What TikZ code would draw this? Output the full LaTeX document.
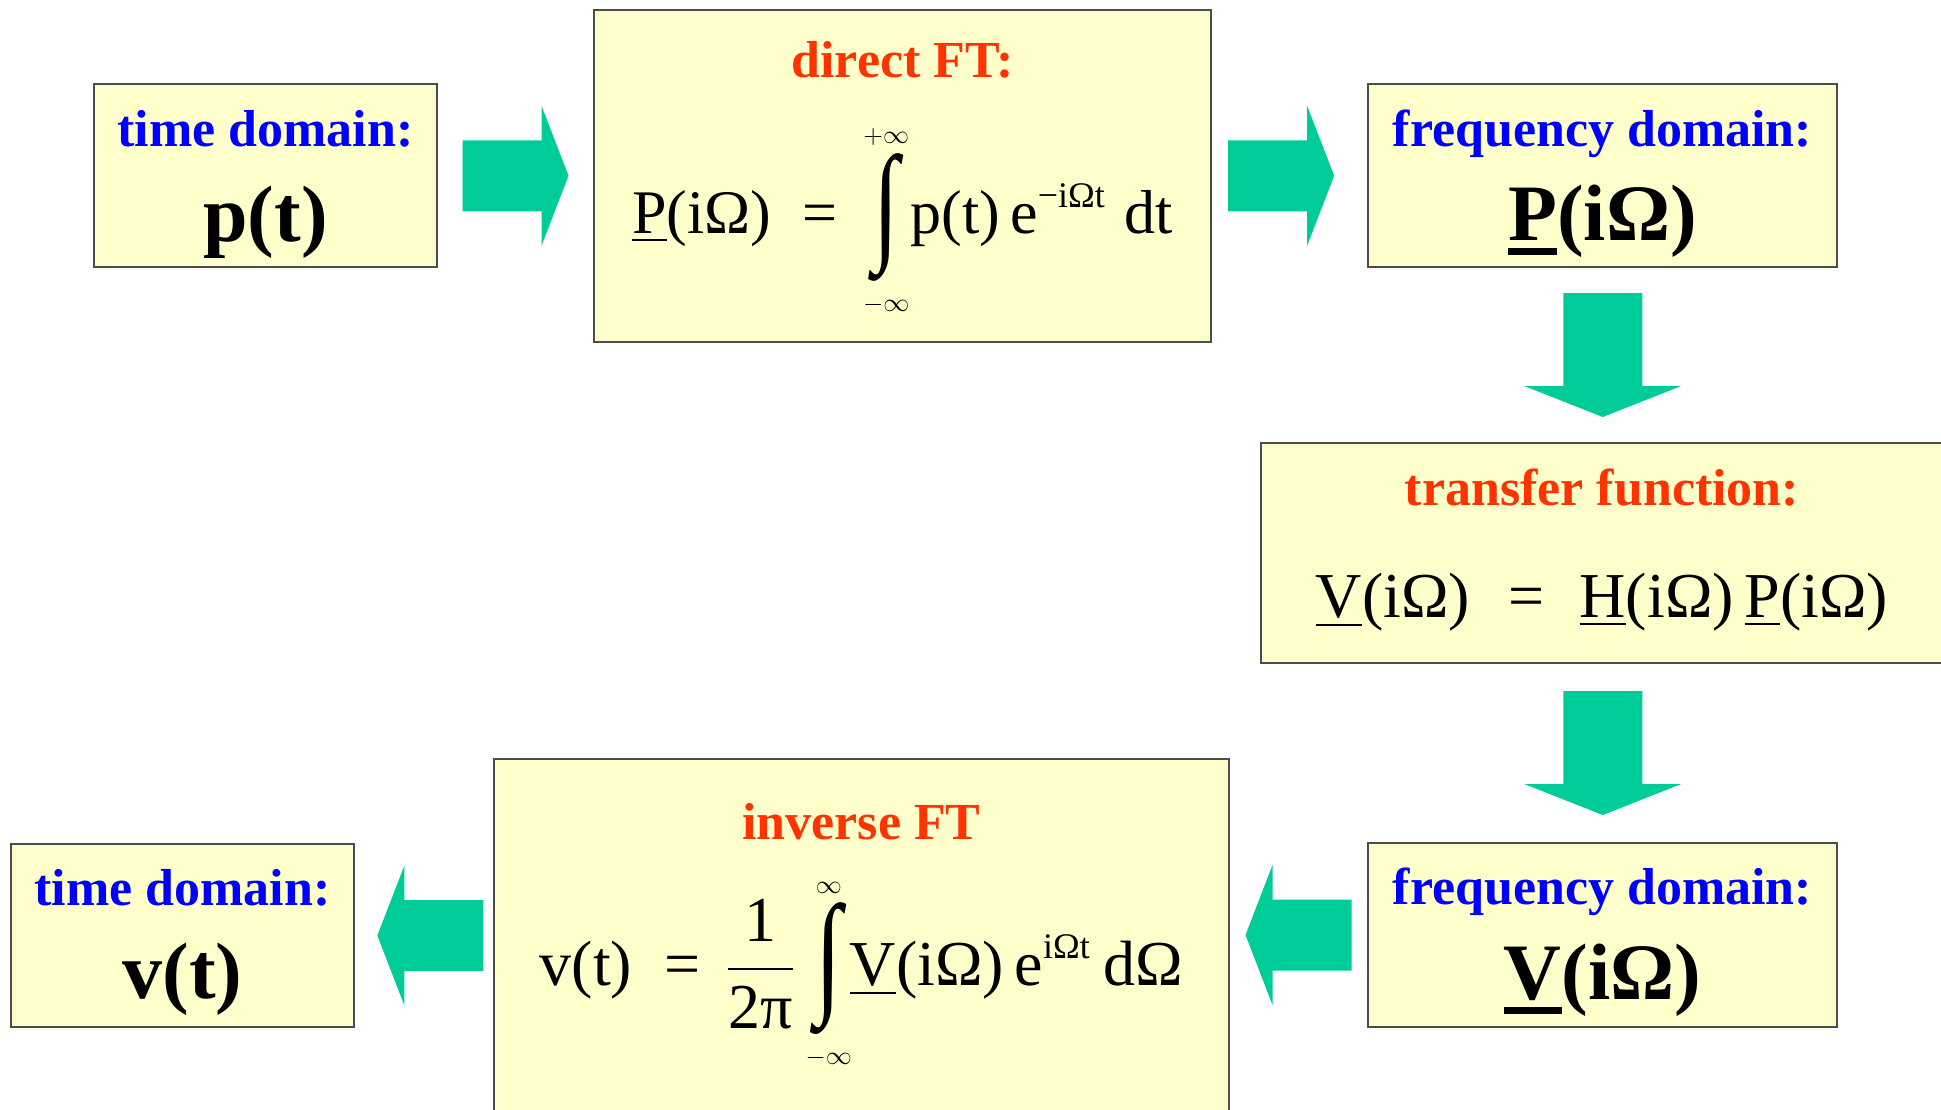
\RequirePackage{fix-cm}
\documentclass[tikz,border=0pt]{standalone}
\usepackage{amsmath}
\usepackage{graphicx}
\usepackage{fontspec}
\setmainfont{Liberation Serif}
\usepackage{tikz}
\usetikzlibrary{calc}
\definecolor{paneFill}{RGB}{255,255,204}
\definecolor{domBlue}{RGB}{0,0,255}
\definecolor{opRed}{RGB}{255,51,0}
\definecolor{flowGreen}{RGB}{0,204,153}
\newcommand{\boldul}[1]{\sbox0{#1}\rlap{\rule[-7.5pt]{\wd0}{3.5pt}}\usebox0}
\newcommand{\limtxt}[1]{\mbox{\fontsize{13}{13}\selectfont$#1$}}
\newcommand{\suptxt}[1]{\mbox{\fontsize{18}{18}\selectfont #1}}
\newcommand{\tallint}{\mathop{\vcenter{\hbox{\scalebox{1.5}[2.1]{∫}}}}\limits}
\tikzset{
    panel/.style={draw=black!70, line width=1pt, fill=paneFill, inner sep=0pt},
    domainhead/.style={anchor=base, text=domBlue, font=\fontsize{26}{30}\selectfont\bfseries},
    ophead/.style={anchor=base, text=opRed, font=\fontsize{26}{30}\selectfont\bfseries},
    bigsig/.style={anchor=base, font=\fontsize{40}{46}\selectfont\bfseries},
    formula/.style={anchor=base, font=\fontsize{31}{36}\selectfont},
    % fat green arrows, pointing right / down
    sidearrow/.pic={
        \fill[flowGreen] (-53,-35.5) -- (26,-35.5) -- (26,-70) -- (53,0)
            -- (26,70) -- (26,35.5) -- (-53,35.5) -- cycle;
    },
    downarrow/.pic={
        \fill[flowGreen] (-39.5,-62) -- (39.5,-62) -- (39.5,31) -- (78.5,31)
            -- (0,62) -- (-78.5,31) -- (-39.5,31) -- cycle;
    }
}

\begin{document}
\begin{tikzpicture}[x=0.5pt,y=-0.5pt]
    \useasboundingbox (0,0) rectangle (1941,1109);
    \clip (0,0) rectangle (1941,1109);

    \node[panel, minimum width=171.5pt, minimum height=91.5pt] (tdp) at (265.5,175.5) {};
    \node[panel, minimum width=308.5pt, minimum height=166pt] (dft) at (902.5,176) {};
    \node[panel, minimum width=234.5pt, minimum height=91.5pt] (fdP) at (1602.5,175.5) {};
    \node[panel, minimum width=342pt, minimum height=110pt] (trf) at (1603,553) {};
    \node[panel, minimum width=234.5pt, minimum height=92pt] (fdV) at (1602.5,935) {};
    \node[panel, minimum width=367.5pt, minimum height=190.5pt] (ift) at (861.5,949.5) {};
    \node[panel, minimum width=171.5pt, minimum height=91.5pt] (tdv) at (182.5,935.5) {};

    \node[domainhead] (tdphead) at (265.5,146) {time domain:};
    \node[bigsig] (tdpsig) at (265.5,241) {p(t)};

    \node[ophead] (dfthead) at (902.5,77) {direct FT:};
    \node[formula] (dftfx) at (902.5,233) {$\displaystyle
        \underline{\text{P}}\text{(iΩ)}\hspace{0.5em}\text{=}\hspace{0.25em}
        \tallint_{\limtxt{-\infty}}^{\limtxt{+\infty}}\hspace{-0.15em}
        \text{p(t)}\,\text{e}^{\suptxt{−iΩt}}\hspace{0.3em}\text{dt}$};

    \node[domainhead] (fdPhead) at (1602.5,146) {frequency domain:};
    \node[bigsig] (fdPsig) at (1602.5,240) {\boldul{P}(iΩ)};

    \node[ophead] (trfhead) at (1602,505) {transfer function:};
    \node[formula, font=\fontsize{32}{36}\selectfont] (trffx) at (1602,617) {$
        \underline{\text{V}}\text{(iΩ)}\hspace{0.6em}\text{=}\hspace{0.55em}
        \underline{\text{H}}\text{(iΩ)}\,\underline{\text{P}}\text{(iΩ)}$};

    \node[domainhead] (fdVhead) at (1602.5,904) {frequency domain:};
    \node[bigsig] (fdVsig) at (1602.5,999) {\boldul{V}(iΩ)};

    \node[ophead] (ifthead) at (861.5,839) {inverse FT};
    \node[formula, font=\fontsize{32}{36}\selectfont] (iftfx) at (861.5,985) {$\displaystyle
        \text{v(t)}\hspace{0.5em}\text{=}\hspace{0.4em}
        \frac{\text{1}}{\text{2π}}
        \tallint_{\limtxt{-\infty}}^{\limtxt{\infty}}\hspace{-0.2em}
        \underline{\text{V}}\text{(iΩ)}\,\text{e}^{\suptxt{iΩt}}\hspace{0.2em}\text{dΩ}$};

    \node[domainhead] (tdvhead) at (182.5,905) {time domain:};
    \node[bigsig] (tdvsig) at (182.5,998) {v(t)};

    % flow between the panels
    \coordinate (fdVin) at (fdV.west);
    \coordinate (iftout) at (fdV.west -| ift.east);
    \coordinate (tdvin) at (tdv.east);
    \coordinate (iftin) at (tdv.east -| ift.west);

    \pic at ($(tdp.east)!0.5!(dft.west)$) {sidearrow};
    \pic at ($(dft.east)!0.446!(fdP.west)$) {sidearrow};
    \pic at ($(fdP.south)!0.5!(trf.north)$) {downarrow};
    \pic at ($(trf.south)!0.5!(fdV.north)$) {downarrow};
    \pic[rotate=180] at ($(iftout)!0.5!(fdVin)$) {sidearrow};
    \pic[rotate=180] at ($(tdvin)!0.546!(iftin)$) {sidearrow};
\end{tikzpicture}
\end{document}
